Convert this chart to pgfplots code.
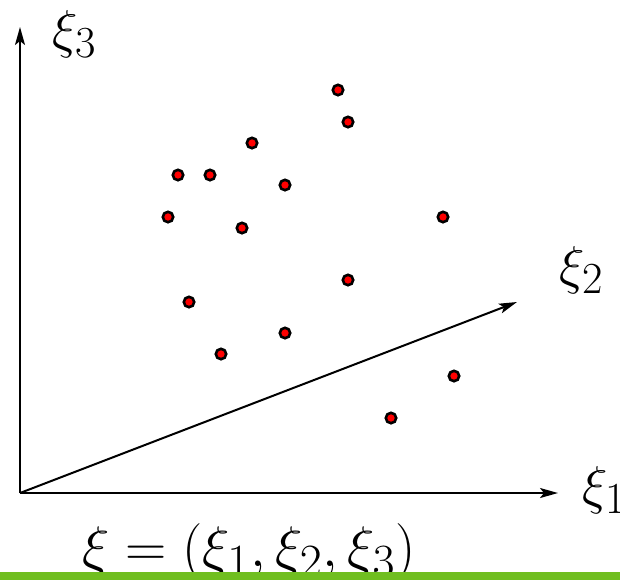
\documentclass[border=0pt]{standalone}
\usepackage{graphicx}
\usepackage{pgfplots}
\pgfplotsset{compat=1.18}
\usetikzlibrary{arrows.meta}
\definecolor{barGreen}{RGB}{112,190,32}
\begin{document}
\begin{tikzpicture}
\begin{axis}[
  width=310pt, height=289.5pt, scale only axis,
  xmin=0, xmax=620, ymin=0, ymax=579, y dir=reverse,
  hide axis, clip=false]
\coordinate (ll) at (axis cs:0,579);
\coordinate (ur) at (axis cs:620,0);
\draw[line width=1pt,-{Stealth[length=9pt,width=5pt,inset=2pt]}] (axis cs:20,493) -- (axis cs:20,27);
\draw[line width=1pt,-{Stealth[length=9pt,width=5pt,inset=2pt]}] (axis cs:20,493) -- (axis cs:558,493);
\draw[line width=1pt,-{Stealth[length=9pt,width=5pt,inset=2pt]}] (axis cs:20,493) -- (axis cs:517,302);
\addplot[only marks, mark=*, mark size=2.6pt, mark options={fill=red, draw=black, line width=1.3pt}]
coordinates {
(338,90) (348,122) (252,143) (178,175) (210,175) (285,185) (168,217) (242,228)
(443,217) (348,280) (189,302) (285,333) (221,354) (454,376) (391,418)
};
\node[font=\Huge, anchor=base west, inner sep=0pt] at (axis cs:52,47) {\scalebox{1.07}{$\xi_3$}};
\node[font=\Huge, anchor=base west, inner sep=0pt] at (axis cs:559,283) {\scalebox{1.07}{$\xi_2$}};
\node[font=\Huge, anchor=base west, inner sep=0pt] at (axis cs:582,503) {\scalebox{1.07}{$\xi_1$}};
\node[font=\Huge, anchor=base west, inner sep=0pt] at (axis cs:82,566) {\scalebox{1.15}{$\xi=(\xi_1,\xi_2,\xi_3)$}};
\fill[barGreen] (axis cs:-10,572) rectangle (axis cs:630,620);
\end{axis}
\pgfresetboundingbox
\path (ll) rectangle (ur);
\end{tikzpicture}
\end{document}
